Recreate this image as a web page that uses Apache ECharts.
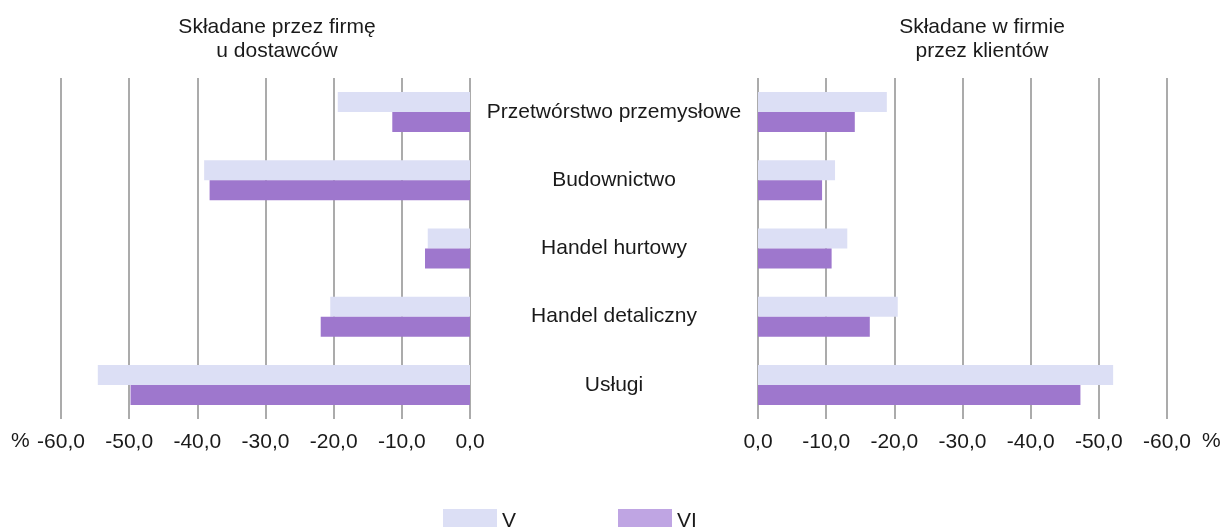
<!DOCTYPE html>
<html>
<head>
<meta charset="utf-8">
<script src="https://cdn.jsdelivr.net/npm/echarts@6/dist/echarts.min.js"></script>
<style>
  html, body { margin: 0; padding: 0; background: #fff; }
  #chart { width: 1227px; height: 527px; }
</style>
</head>
<body>
<div id="chart"></div>
<script>
const categories = ['Przetwórstwo przemysłowe', 'Budownictwo', 'Handel hurtowy', 'Handel detaliczny', 'Usługi']
const seriesNames = ['V', 'VI']
// składane przez firmę u dostawców
const supplierV = [-19.4, -39.0, -6.2, -20.5, -54.6]
const supplierVI = [-11.4, -38.2, -6.6, -21.9, -49.8]
// składane w firmie przez klientów
const clientV = [-18.9, -11.3, -13.1, -20.5, -52.1]
const clientVI = [-14.2, -9.4, -10.8, -16.4, -47.3]
const titles = ['Składane przez firmę\nu dostawców', 'Składane w firmie\nprzez klientów']

const font = '"Liberation Sans", Arial, sans-serif'
const fs = 21
const colV = '#dcdff5'
const colVI = '#9e77cd'
const fmt = v => v.toFixed(1).replace('.', ',')

const chart = echarts.init(document.getElementById('chart'))

const xAxisBase = {
  type: 'value',
  min: -60,
  max: 0,
  interval: 10,
  axisLine: { show: false },
  axisTick: { show: false },
  axisLabel: { formatter: fmt, fontSize: fs, color: '#1a1a1a', fontFamily: font, margin: 13 },
  splitLine: { show: true, lineStyle: { color: '#8f8f8f', width: 1.5 } }
}

function bar(name, data, color, idx) {
  return {
    name: name,
    type: 'bar',
    xAxisIndex: idx,
    yAxisIndex: idx,
    data: data,
    barWidth: 20,
    barGap: 0,
    itemStyle: { color: color },
    silent: true
  }
}

chart.setOption({
  animation: false,
  textStyle: { fontFamily: font },
  title: [
    { text: titles[0], left: 272, top: 10, textAlign: 'center',
      textStyle: { fontSize: fs, fontWeight: 'normal', color: '#1a1a1a', lineHeight: 24, fontFamily: font } },
    { text: titles[1], left: 977, top: 10, textAlign: 'center',
      textStyle: { fontSize: fs, fontWeight: 'normal', color: '#1a1a1a', lineHeight: 24, fontFamily: font } }
  ],
  legend: {
    left: 438,
    top: 504,
    itemWidth: 54,
    itemHeight: 24,
    itemGap: 102,
    icon: 'rect',
    textStyle: { fontSize: fs, color: '#1a1a1a', fontFamily: font },
    data: [
      { name: seriesNames[0], itemStyle: { color: colV } },
      { name: seriesNames[1], itemStyle: { color: '#bfa5e3' } }
    ]
  },
  grid: [
    { left: 61, width: 409, top: 78, bottom: 108 },
    { left: 758, width: 409, top: 78, bottom: 108 }
  ],
  xAxis: [
    Object.assign({}, xAxisBase, { gridIndex: 0 }),
    Object.assign({}, xAxisBase, { gridIndex: 1, inverse: true })
  ],
  yAxis: [
    {
      gridIndex: 0,
      type: 'category',
      data: categories,
      inverse: true,
      position: 'right',
      axisLine: { show: false },
      axisTick: { show: false },
      axisLabel: { align: 'center', margin: 144, fontSize: fs, color: '#1a1a1a', fontFamily: font }
    },
    {
      gridIndex: 1,
      type: 'category',
      data: categories,
      inverse: true,
      axisLine: { show: false },
      axisTick: { show: false },
      axisLabel: { show: false }
    }
  ],
  graphic: [
    { type: 'text', left: 11, top: 431, style: { text: '%', font: fs + 'px ' + font, fill: '#1a1a1a' } },
    { type: 'text', left: 1202, top: 431, style: { text: '%', font: fs + 'px ' + font, fill: '#1a1a1a' } }
  ],
  series: [
    bar(seriesNames[0], supplierV, colV, 0),
    bar(seriesNames[1], supplierVI, colVI, 0),
    bar(seriesNames[0], clientV, colV, 1),
    bar(seriesNames[1], clientVI, colVI, 1)
  ]
})
</script>
</body>
</html>
